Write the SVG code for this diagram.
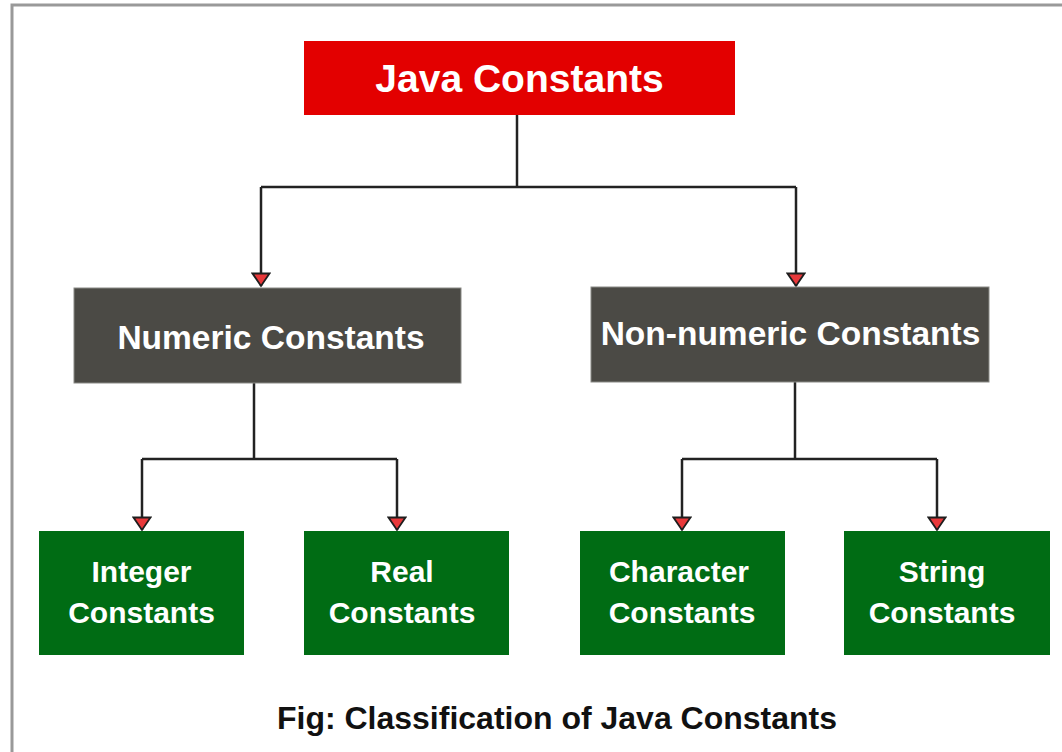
<svg xmlns="http://www.w3.org/2000/svg" width="1062" height="752" viewBox="0 0 1062 752">
  <style>
    .lbl { font-family: "Liberation Sans", Arial, sans-serif; font-weight: bold; fill: #ffffff; text-anchor: middle; }
    .root { fill: #e30000; }
    .mid { fill: #4b4a45; stroke: #8a8a86; stroke-width: 1; }
    .leaf { fill: #006c14; }
    .wire { fill: none; stroke: #222222; stroke-width: 2.5; }
    .cap { font-family: "Liberation Sans", Arial, sans-serif; font-weight: bold; fill: #111111; text-anchor: middle; font-size: 32px; }
  </style>
  <defs>
    <!-- arrowhead drawn along +x so orient="auto" turns it with the wire -->
    <marker id="tri" markerWidth="16" markerHeight="20" refX="14" refY="10" orient="auto" markerUnits="userSpaceOnUse" viewBox="0 0 16 20">
      <path d="M1.5,1.5 L14,10 L1.5,18.5 Z" fill="#e8383a" stroke="#1e1e1e" stroke-width="1.8" stroke-linejoin="miter"/>
    </marker>
  </defs>
  <rect x="0" y="0" width="1062" height="752" fill="#ffffff"/>
  <!-- frame -->
  <path d="M12,752 L12,5 L1062,5" fill="none" stroke="#999999" stroke-width="3"/>

  <g id="connectors">
    <path class="wire" d="M517,115 L517,187"/>
    <path class="wire" d="M261,187 L796,187"/>
    <path class="wire" d="M261,187 L261,286" marker-end="url(#tri)"/>
    <path class="wire" d="M796,187 L796,286" marker-end="url(#tri)"/>
    <path class="wire" d="M254,383 L254,459"/>
    <path class="wire" d="M142,459 L397,459"/>
    <path class="wire" d="M142,459 L142,530" marker-end="url(#tri)"/>
    <path class="wire" d="M397,459 L397,530" marker-end="url(#tri)"/>
    <path class="wire" d="M795,382 L795,459"/>
    <path class="wire" d="M682,459 L937,459"/>
    <path class="wire" d="M682,459 L682,530" marker-end="url(#tri)"/>
    <path class="wire" d="M937,459 L937,530" marker-end="url(#tri)"/>
  </g>

  <g id="java-constants">
    <rect class="root" x="304" y="41" width="431" height="74"/>
    <text class="lbl" x="519.5" y="92" font-size="39">Java Constants</text>
  </g>
  <g id="numeric-constants">
    <rect class="mid" x="74" y="288" width="387" height="95"/>
    <text class="lbl" x="271" y="349" font-size="33.5">Numeric Constants</text>
  </g>
  <g id="non-numeric-constants">
    <rect class="mid" x="591" y="287" width="398" height="95"/>
    <text class="lbl" x="790.5" y="345" font-size="33.5">Non-numeric Constants</text>
  </g>
  <g id="integer-constants">
    <rect class="leaf" x="39" y="531" width="205" height="124"/>
    <text class="lbl" x="141.5" y="582" font-size="30">Integer</text>
    <text class="lbl" x="141.5" y="623" font-size="30">Constants</text>
  </g>
  <g id="real-constants">
    <rect class="leaf" x="304" y="531" width="205" height="124"/>
    <text class="lbl" x="402" y="582" font-size="30">Real</text>
    <text class="lbl" x="402" y="623" font-size="30">Constants</text>
  </g>
  <g id="character-constants">
    <rect class="leaf" x="580" y="531" width="205" height="124"/>
    <text class="lbl" x="679" y="582" font-size="30">Character</text>
    <text class="lbl" x="682" y="623" font-size="30">Constants</text>
  </g>
  <g id="string-constants">
    <rect class="leaf" x="844" y="531" width="206" height="124"/>
    <text class="lbl" x="942" y="582" font-size="30">String</text>
    <text class="lbl" x="942" y="623" font-size="30">Constants</text>
  </g>

  <text class="cap" x="557" y="729">Fig: Classification of Java Constants</text>
</svg>
